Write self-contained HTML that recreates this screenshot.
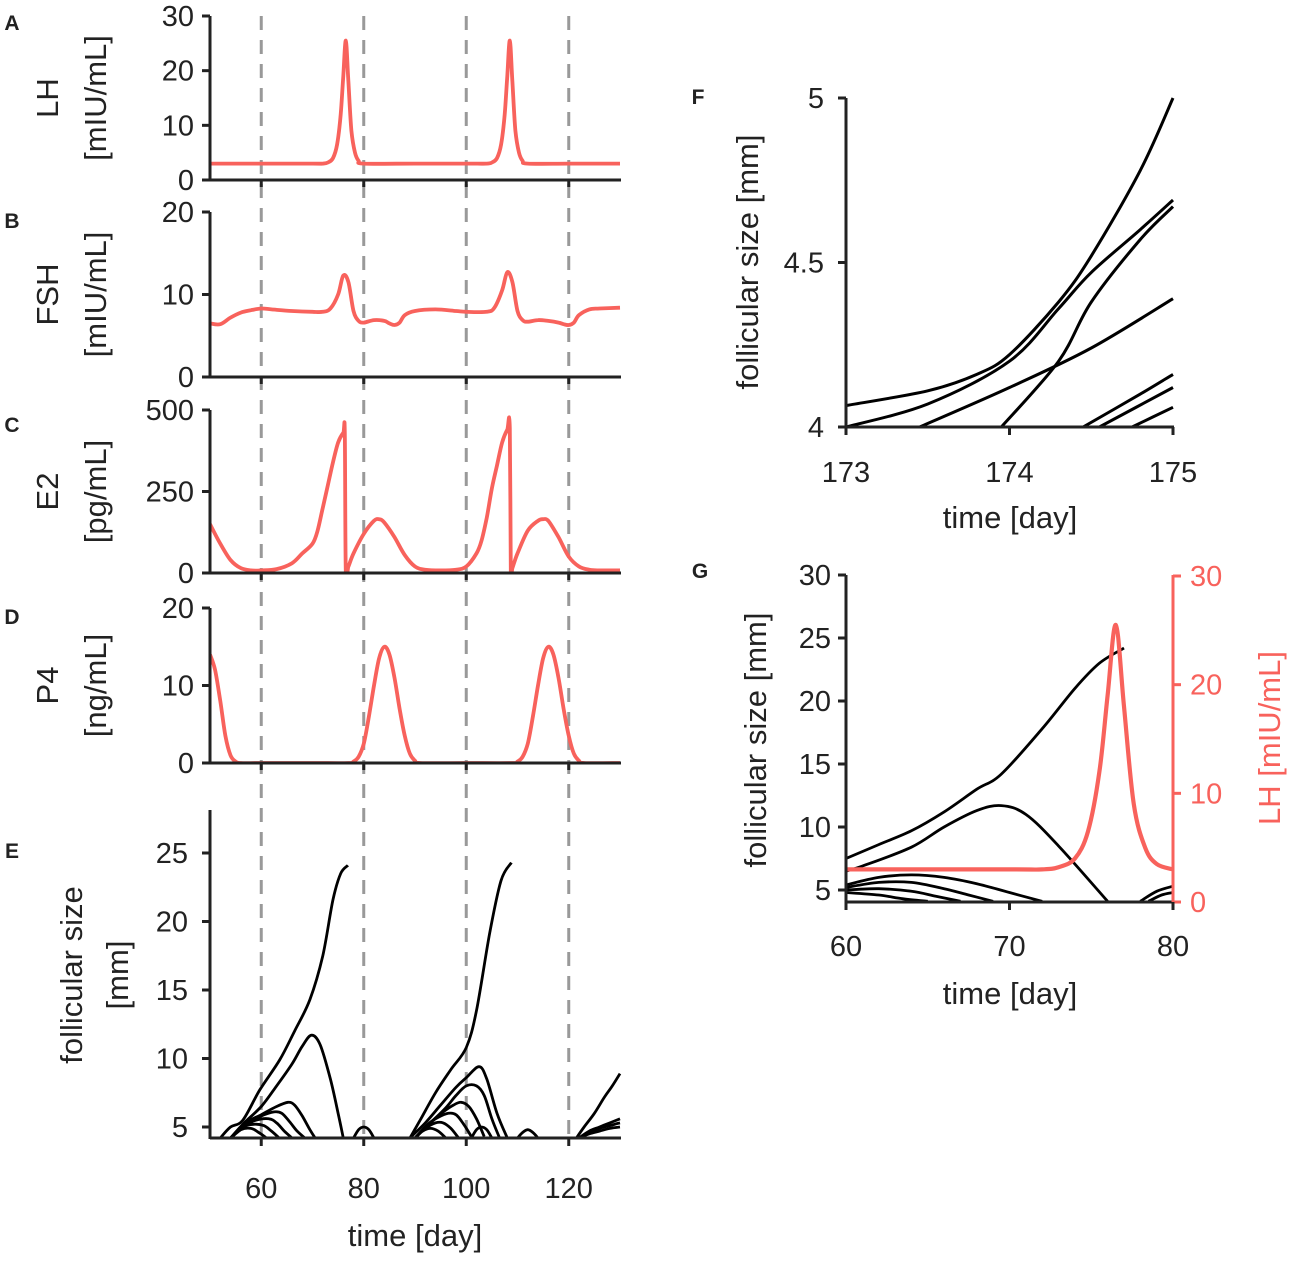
<!DOCTYPE html>
<html><head><meta charset="utf-8"><style>
body{margin:0;background:#fff}
svg text{font-family:"Liberation Sans",sans-serif;fill:#222}
</style></head><body>
<svg id="fig" width="1298" height="1256" viewBox="0 0 1298 1256" xmlns="http://www.w3.org/2000/svg"></svg>
<script>
// ---------- DATA ----------
const lhDays = [50,60,70,72,73,74,74.8,75.5,76,76.5,77,77.6,78.3,79,80,90,100,104,105,106,106.8,107.5,108,108.5,109,109.6,110.3,111,112,120,130];
const lhVals = [3,3,3,3,3.2,4,6.5,12,19,25.5,18,9,5,3.5,3,3,3,3,3.2,4,6.5,12,19,25.5,18,9,5,3.5,3,3,3];
const fshDays = [50,52,54,56,58,60,62,66,70,72,73.5,75,76,77,78,79,80,82,84,85,86,87,88,90,94,98,100,104,105.5,107,108,109,110,111,112,114,116,118,119,120,121,122,124,126,130];
const fshVals = [6.5,6.4,7.2,7.8,8.1,8.3,8.2,8,7.9,7.9,8.3,10,12.3,11.5,8,6.8,6.6,6.9,6.8,6.5,6.3,6.6,7.5,8,8.2,8,7.9,7.9,8.4,10.5,12.7,11.5,8,6.9,6.7,6.9,6.8,6.6,6.4,6.3,6.6,7.5,8.2,8.3,8.4];
const e2Days = [50,52,54,56,58,60,63,66,68,70,71,72,73,74,75,76,76.3,76.5,77,78,80,82,83,84,86,88,90,92,95,98,100,102,103,104,105,106,107,108,108.5,108.7,109,110,112,114,115,116,118,120,122,124,126,130];
const e2Vals = [150,90,40,15,8,8,12,30,60,90,130,200,270,340,400,430,430,5,20,60,120,160,165,155,110,55,20,10,8,10,20,60,100,170,260,330,400,440,445,5,15,60,130,160,165,160,110,50,20,10,8,8];
const p4Days = [50,51,52,53,54,55,56,60,70,77,78,79,80,81,82,83,84,85,86,87,88,89,90,91,100,109,110,111,112,113,114,115,116,117,118,119,120,121,122,123,130];
const p4Vals = [14,12,8,3.5,1,0.2,0,0,0,0,0.2,0.8,2.5,6,10,13.5,15,14,11,7,3.5,1.2,0.3,0,0,0,0.2,0.8,2.5,6,10,13.5,15,14,11,7,3.5,1.2,0.3,0,0];
const follDays = [
 [52,54,56.4,59.7,63.6,66.5,69.5,72,74,75.5,76.9],
 [54,56.4,60,63,66,68,69.8,71.5,73.5,75,76],
 [54,57,60,63,65.2,66.5,68,69.5,70.5],
 [54,57,60,62.5,64,65.5,67,68.5],
 [54,57,59,61.5,63,64.5,66],
 [54,56.5,58.5,60.5,62,63.5],
 [54,56,58,59.5,61],
 [78,79,80,81,82],
 [89,91,94,97,100,102,104.6,106.8,108.8],
 [89,92,95,98,100,102.5,104,106,108],
 [90,93,96,98,100,102,103.5,105,106.5],
 [90,93,95.5,97.5,99,100.5,102,103.5],
 [90,92.5,94.5,96.5,98,99.5,101],
 [90,92,94,95.5,97,98.5],
 [90,91.5,93,94.5,96],
 [101,102,103,104,105],
 [110,111,112,113,114],
 [121.5,123,125,127,128.5,130],
 [122,124,126,128,130],
 [122,124,126,128,130],
 [122,124,126,128,130]
];
const follVals = [
 [4.2,5,5.5,7.7,9.9,12,14.3,17.5,21.6,23.5,24.1],
 [4.2,5.2,6.5,8,9.6,10.9,11.7,11,8.5,6,4.2],
 [4.2,5.3,5.9,6.5,6.8,6.6,5.8,4.8,4.2],
 [4.2,5.2,5.8,6.1,6,5.4,4.7,4.2],
 [4.2,5.1,5.5,5.6,5.3,4.7,4.2],
 [4.2,5,5.2,5.1,4.7,4.2],
 [4.2,4.8,4.9,4.6,4.2],
 [4.2,4.8,5,4.8,4.2],
 [4.2,5.5,7.5,9.2,10.8,13.5,19.2,23,24.3],
 [4.2,5.3,6.6,7.9,8.6,9.4,8.5,6,4.2],
 [4.2,5.3,6.4,7.3,8,8,7.3,5.6,4.2],
 [4.2,5.3,6.1,6.6,6.8,6.5,5.6,4.3],
 [4.2,5.2,5.7,6,5.9,5.2,4.3],
 [4.2,4.9,5.3,5.3,4.9,4.2],
 [4.2,4.7,4.9,4.7,4.2],
 [4.2,4.8,5,4.8,4.2],
 [4.2,4.6,4.8,4.6,4.2],
 [4.2,5,6,7.2,8,8.9],
 [4.2,4.7,5,5.3,5.6],
 [4.2,4.6,4.9,5.1,5.3],
 [4.2,4.5,4.7,4.9,5]
];
const fDays = [
 [173,173.5,173.8,174,174.3,174.5,174.8,175],
 [173,173.5,174,174.3,174.5,174.8,175],
 [173.45,174,174.5,175],
 [173.95,174.3,174.5,174.8,175],
 [174.45,174.8,175],
 [174.55,175],
 [174.75,175]
];
const fVals = [
 [4.065,4.11,4.16,4.22,4.38,4.52,4.78,5.0],
 [4.0,4.07,4.2,4.36,4.47,4.6,4.69],
 [4.0,4.12,4.24,4.39],
 [4.0,4.2,4.38,4.57,4.67],
 [4.0,4.1,4.16],
 [4.0,4.12],
 [4.0,4.06]
];
const gDays = [
 [60,62,64,66,68,69.5,72,74,75.5,77],
 [60,61,64,66,68,69.5,71,73,76],
 [60,62,64,66,68,70,72],
 [60,62,64,66,67.5,69],
 [60,62,64,65.5,67],
 [60,62,63.5,65],
 [78,79,80],
 [78.5,79.3,80]
];
const gVals = [
 [7.5,8.6,9.7,11.2,13,14.2,17.8,21,23,24.2],
 [6.5,6.9,8.4,10,11.3,11.7,11,8.5,4.1],
 [5.4,6,6.2,6,5.5,4.8,4.1],
 [5.2,5.6,5.6,5.1,4.6,4.1],
 [5,5.1,4.9,4.5,4.1],
 [4.8,4.6,4.3,4.1],
 [4.1,4.9,5.3],
 [4.1,4.6,4.8]
];
const gLhDays = [60,70,72,73,74,74.8,75.5,76,76.5,77,77.6,78.3,79,80];
const gLhVals = [3,3,3,3.2,4,6.5,12,19,25.5,18,9,5,3.5,3];
const dashDays = [60,80,100,120];
const xTicksLeft = [60,80,100,120];

// ---------- DRAW ----------
const svg = document.getElementById('fig');
const NS = 'http://www.w3.org/2000/svg';
const RED = '#f8625c', INK = '#222';
const defs = document.createElementNS(NS,'defs'); svg.appendChild(defs);
function mk(tag, attrs, parent){
  const e = document.createElementNS(NS, tag);
  for (const k in attrs) e.setAttribute(k, attrs[k]);
  (parent||svg).appendChild(e);
  return e;
}
function clip(id,x,y,w,h){ const c=mk('clipPath',{id:id},defs); mk('rect',{x:x,y:y,width:w,height:h},c); return 'url(#'+id+')'; }
function lin(d0,d1,r0,r1){ return v => r0 + (v-d0)/(d1-d0)*(r1-r0); }
function smoothPath(xs, ys){
  const p = xs.map((x,i)=>[x,ys[i]]);
  let d = 'M'+p[0][0].toFixed(1)+','+p[0][1].toFixed(1);
  for (let i=0;i<p.length-1;i++){
    const p0=p[i-1]||p[i], p1=p[i], p2=p[i+1], p3=p[i+2]||p2;
    const c1=[p1[0]+(p2[0]-p0[0])/6, p1[1]+(p2[1]-p0[1])/6];
    const c2=[p2[0]-(p3[0]-p1[0])/6, p2[1]-(p3[1]-p1[1])/6];
    d+=' C'+c1[0].toFixed(1)+','+c1[1].toFixed(1)+' '+c2[0].toFixed(1)+','+c2[1].toFixed(1)+' '+p2[0].toFixed(1)+','+p2[1].toFixed(1);
  }
  return d;
}
function txt(x,y,s,opts,parent){
  const t = mk('text', Object.assign({x:x,y:y,'font-size':29,'text-anchor':'middle'},opts||{}), parent);
  t.textContent = s; return t;
}

const xL = lin(50,130,210,620);
const panels = [
  {name:'lh', letter:'A', ly:30, y0:180, y1:16, d0:0, d1:30, ticks:[0,10,20,30], lab:['LH','[mIU/mL]'], days:lhDays, vals:lhVals},
  {name:'fsh', letter:'B', ly:228, y0:377, y1:212, d0:0, d1:20, ticks:[0,10,20], lab:['FSH','[mIU/mL]'], days:fshDays, vals:fshVals},
  {name:'e2', letter:'C', ly:432, y0:573, y1:410, d0:0, d1:500, ticks:[0,250,500], lab:['E2','[pg/mL]'], days:e2Days, vals:e2Vals},
  {name:'p4', letter:'D', ly:624, y0:763, y1:608, d0:0, d1:20, ticks:[0,10,20], lab:['P4','[ng/mL]'], days:p4Days, vals:p4Vals}
];
dashDays.forEach(d=>{
  const l = mk('line',{x1:xL(d),x2:xL(d),y1:16,y2:1138,stroke:'#999','stroke-width':3,'stroke-dasharray':'14 10'});
  
  
});
panels.forEach(p=>{
  const g = mk('g',{});
  
  
  const y = lin(p.d0,p.d1,p.y0,p.y1);
  const cp = clip('c'+p.name,210,p.y1-20,412,p.y0-p.y1+20);
  const path = mk('path',{d:smoothPath(p.days.map(xL), p.vals.map(y)),fill:'none',stroke:RED,'stroke-width':3.8,'stroke-linejoin':'round','clip-path':cp},g);
  
  
  mk('line',{x1:210,x2:210,y1:p.y1,y2:p.y0,stroke:INK,'stroke-width':3},g);
  mk('line',{x1:210,x2:621,y1:p.y0,y2:p.y0,stroke:INK,'stroke-width':3},g);
  p.ticks.forEach(t=>{
    mk('line',{x1:202,x2:210,y1:y(t),y2:y(t),stroke:INK,'stroke-width':3},g);
    txt(194,y(t)+10,String(t),{'text-anchor':'end'},g);
  });
  xTicksLeft.forEach(t=>mk('line',{x1:xL(t),x2:xL(t),y1:p.y0,y2:p.y0+7,stroke:INK,'stroke-width':3},g));
  const cy=(p.y0+p.y1)/2;
  const l1 = txt(0,0,p.lab[0],{'font-size':31,transform:'translate(58,'+cy+') rotate(-90)'},g);
  
  
  txt(0,0,p.lab[1],{'font-size':31,transform:'translate(106,'+cy+') rotate(-90)'},g);
  txt(12,p.ly,p.letter,{'font-size':21,'font-weight':'bold'},g);
});
{
  const g = mk('g',{});
  
  
  const y = lin(5,25,1127,853);
  const cp = clip('ce',210,800,412,338);
  follDays.forEach((ds,i)=>{
    const pth = mk('path',{d:smoothPath(ds.map(xL), follVals[i].map(y)),fill:'none',stroke:'#000','stroke-width':2.8,'clip-path':cp},g);
    
    
  });
  mk('line',{x1:210,x2:210,y1:810,y2:1139,stroke:INK,'stroke-width':3},g);
  mk('line',{x1:210,x2:621,y1:1138,y2:1138,stroke:INK,'stroke-width':3},g);
  [5,10,15,20,25].forEach(t=>{
    mk('line',{x1:202,x2:210,y1:y(t),y2:y(t),stroke:INK,'stroke-width':3},g);
    txt(188,y(t)+10,String(t),{'text-anchor':'end'},g);
  });
  xTicksLeft.forEach(t=>{
    mk('line',{x1:xL(t),x2:xL(t),y1:1138,y2:1146,stroke:INK,'stroke-width':3},g);
    txt(xL(t),1198,String(t),{},g);
  });
  const xt = txt(415,1246,'time [day]',{'font-size':31},g);
  
  
  txt(0,0,'follicular size',{'font-size':31,transform:'translate(82,975) rotate(-90)'},g);
  txt(0,0,'[mm]',{'font-size':31,transform:'translate(128,975) rotate(-90)'},g);
  txt(12,858,'E',{'font-size':21,'font-weight':'bold'},g);
}
{
  const g = mk('g',{});
  
  
  const x = lin(173,175,846,1173), y = lin(4,5,427,98);
  const cp = clip('cf',846,90,330,337);
  fDays.forEach((ds,i)=>{
    const pth = mk('path',{d:smoothPath(ds.map(x), fVals[i].map(y)),fill:'none',stroke:'#000','stroke-width':3,'clip-path':cp},g);
    
    
  });
  mk('line',{x1:846,x2:846,y1:98,y2:428,stroke:INK,'stroke-width':3},g);
  mk('line',{x1:846,x2:1174,y1:427,y2:427,stroke:INK,'stroke-width':3},g);
  [4,4.5,5].forEach(t=>{
    mk('line',{x1:838,x2:846,y1:y(t),y2:y(t),stroke:INK,'stroke-width':3},g);
    txt(824,y(t)+10,String(t),{'text-anchor':'end'},g);
  });
  [173,174,175].forEach(t=>{
    mk('line',{x1:x(t),x2:x(t),y1:427,y2:435,stroke:INK,'stroke-width':3},g);
    txt(x(t),482,String(t),{},g);
  });
  txt(1010,528,'time [day]',{'font-size':31},g);
  txt(0,0,'follicular size [mm]',{'font-size':31,transform:'translate(758,262) rotate(-90)'},g);
  txt(698,104,'F',{'font-size':21,'font-weight':'bold'},g);
}
{
  const g = mk('g',{});
  
  
  const x = lin(60,80,846,1173), y = lin(5,30,890,575), yr = lin(0,30,902,576);
  const cp = clip('cg',846,560,328,342);
  gDays.forEach((ds,i)=>{
    const pth = mk('path',{d:smoothPath(ds.map(x), gVals[i].map(y)),fill:'none',stroke:'#000','stroke-width':2.8,'clip-path':cp},g);
    
    
  });
  const lh = mk('path',{d:smoothPath(gLhDays.map(x), gLhVals.map(yr)),fill:'none',stroke:RED,'stroke-width':4.2},g);
  
  
  mk('line',{x1:846,x2:846,y1:575,y2:903,stroke:INK,'stroke-width':3},g);
  mk('line',{x1:846,x2:1174,y1:902,y2:902,stroke:INK,'stroke-width':3},g);
  mk('line',{x1:1173,x2:1173,y1:575,y2:903,stroke:RED,'stroke-width':3},g);
  [5,10,15,20,25,30].forEach(t=>{
    mk('line',{x1:838,x2:846,y1:y(t),y2:y(t),stroke:INK,'stroke-width':3},g);
    txt(831,y(t)+10,String(t),{'text-anchor':'end'},g);
  });
  [0,10,20,30].forEach(t=>{
    mk('line',{x1:1173,x2:1181,y1:yr(t),y2:yr(t),stroke:RED,'stroke-width':3},g);
    txt(1190,yr(t)+10,String(t),{'text-anchor':'start',style:'fill:'+RED},g);
  });
  [60,70,80].forEach(t=>{
    mk('line',{x1:x(t),x2:x(t),y1:902,y2:910,stroke:INK,'stroke-width':3},g);
    txt(x(t),956,String(t),{},g);
  });
  txt(1010,1004,'time [day]',{'font-size':31},g);
  txt(0,0,'follicular size [mm]',{'font-size':31,transform:'translate(766,740) rotate(-90)'},g);
  txt(0,0,'LH [mIU/mL]',{'font-size':31,transform:'translate(1280,738) rotate(-90)',style:'fill:'+RED},g);
  txt(700,578,'G',{'font-size':21,'font-weight':'bold'},g);
}
</script>
</body></html>
